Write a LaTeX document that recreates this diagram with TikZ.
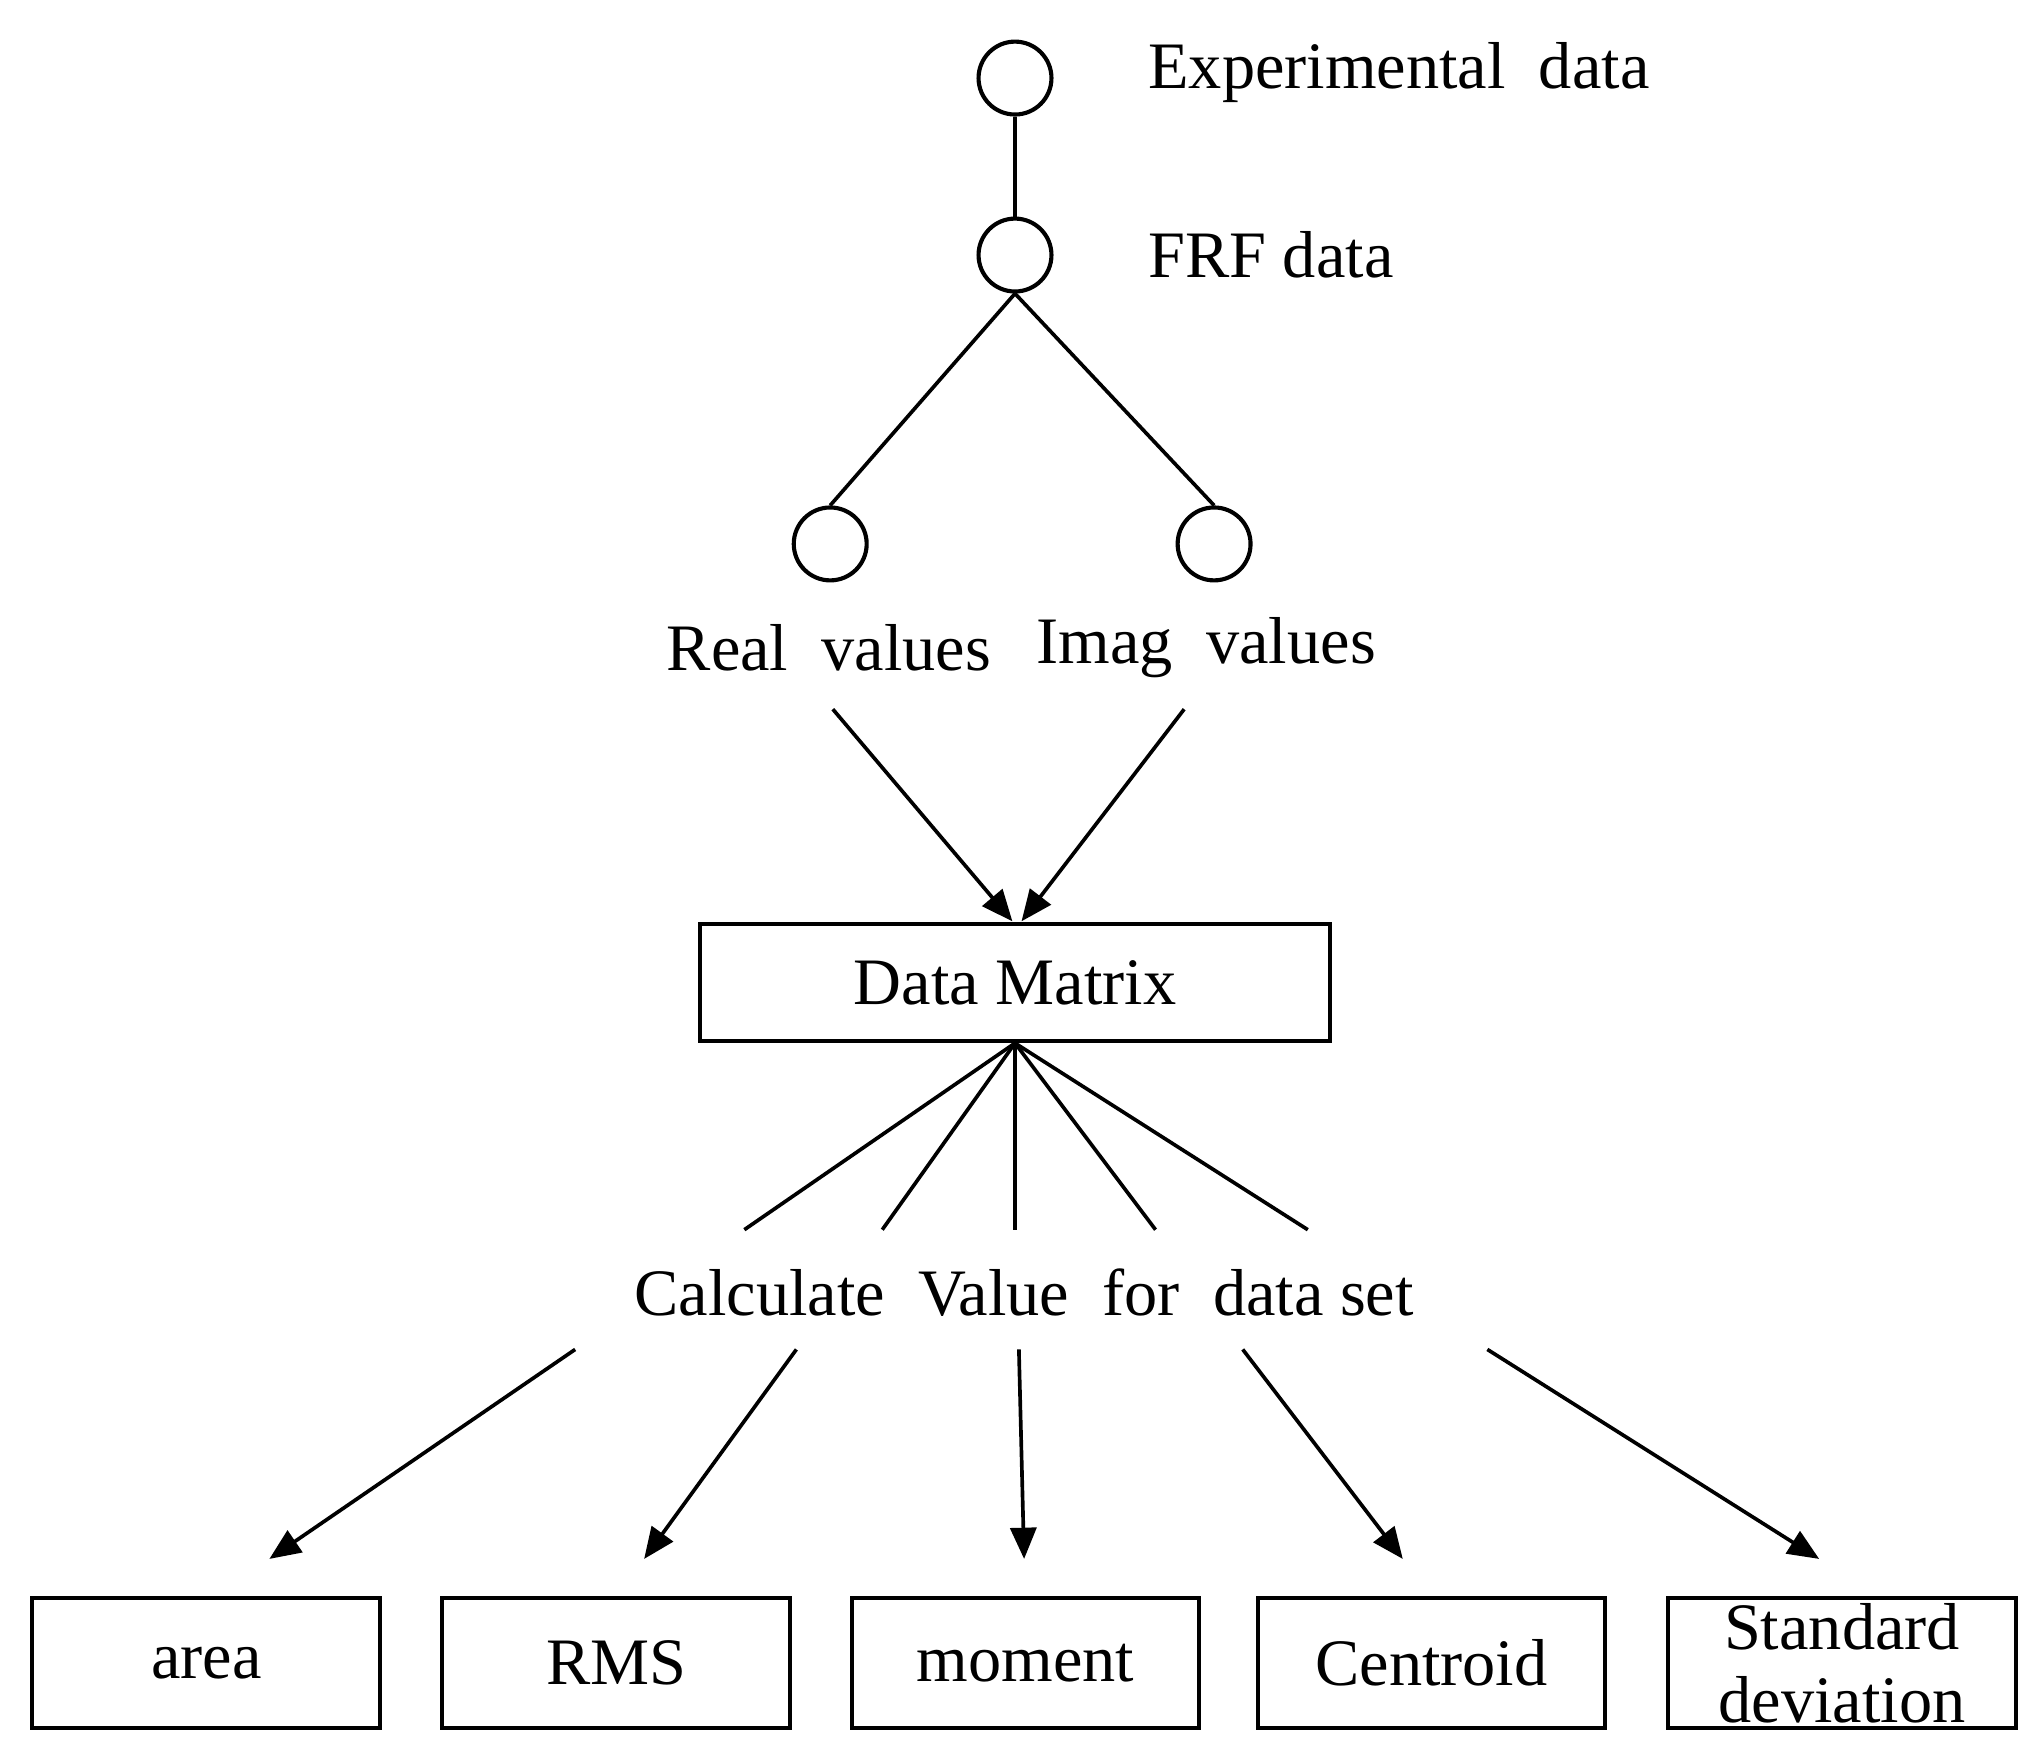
\documentclass[tikz,border=0pt]{standalone}
\usepackage{fontspec}
\setmainfont{Liberation Serif}
\usetikzlibrary{arrows.meta}
\begin{document}
\begin{tikzpicture}[x=0.01cm,y=-0.01cm,
  circ/.style={draw,circle,minimum size=0.56cm,inner sep=0pt,line width=0.9pt},
  box/.style={draw,rectangle,line width=0.9pt,inner sep=0pt},
  lbl/.style={font=\fontsize{14.5}{15}\selectfont},
  ln/.style={line width=0.8pt},
  arr/.style={line width=0.8pt,-{Triangle[length=0.24cm,width=0.2cm]}}]
\useasboundingbox (0,0) rectangle (1560,1346);
\node[circ] (e) at (780,60) {};
\node[circ] (f) at (780,196) {};
\node[circ] (r) at (638,418) {};
\node[circ] (i) at (933,418) {};
\node[lbl,anchor=west] (et) at (870,56) {Experimental\ \ data};
\node[lbl,anchor=west] (ft) at (870,196) {FRF data};
\node[lbl] (rt) at (637,498) {Real\ \ values};
\node[lbl] (it) at (927,498) {Imag\ \ values};
\node[box,minimum width=4.84cm,minimum height=0.9cm,lbl] (dm) at (780,755) {Data Matrix};
\node[lbl] (ct) at (787,993) {Calculate\ \ Value\ \ for\ \ data set};
\coordinate (c1) at (572,945); \coordinate (c2) at (678,945); \coordinate (c3) at (780,945);
\coordinate (c4) at (888,945); \coordinate (c5) at (1005,945);
\coordinate (rs) at (640,545); \coordinate (is) at (910,545);
\coordinate (dr) at (778,708); \coordinate (di) at (785,708);
\coordinate (s1) at (442,1037); \coordinate (s2) at (612,1037); \coordinate (s3) at (783,1037);
\coordinate (s4) at (955,1037); \coordinate (s5) at (1143,1037);
\coordinate (t1) at (207,1198); \coordinate (t2) at (495,1198); \coordinate (t3) at (787,1198);
\coordinate (t4) at (1078,1198); \coordinate (t5) at (1398,1198);
\foreach \n/\x/\t in {b1/158.5/area,b2/473.5/RMS,b3/788/moment,b4/1100/Centroid}
  \node[box,minimum width=2.67cm,minimum height=1cm,lbl] (\n) at (\x,1278) {\t};
\node[box,minimum width=2.67cm,minimum height=1cm,lbl,align=center,font=\fontsize{14.5}{16}\selectfont] (b5) at (1415.5,1278) {Standard\\deviation};
\draw[ln] (e) -- (f);
\draw[ln] (f.south) -- (r.north);
\draw[ln] (f.south) -- (i.north);
\draw[arr] (rs) -- (dr);
\draw[arr] (is) -- (di);
\foreach \c in {c1,c2,c3,c4,c5} \draw[ln] (dm.south) -- (\c);
\foreach \k in {1,...,5} \draw[arr] (s\k) -- (t\k);
\end{tikzpicture}
\end{document}
